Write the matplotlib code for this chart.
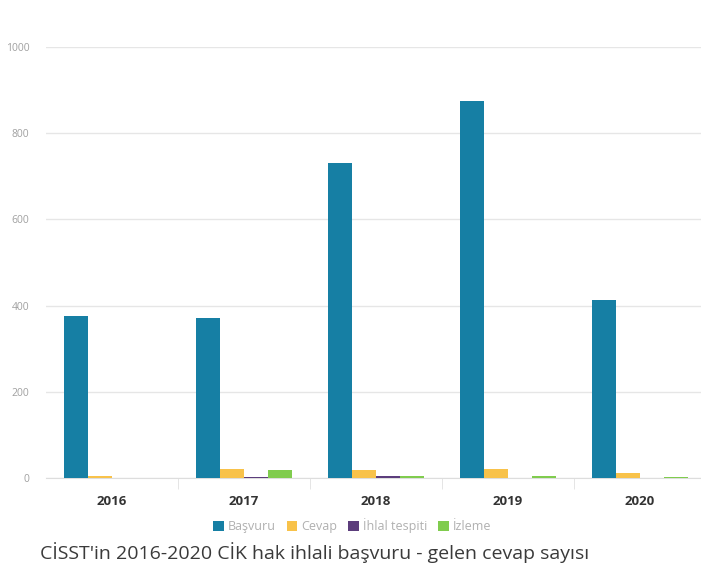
import numpy as np
import matplotlib.pyplot as plt

years = ["2016", "2017", "2018", "2019", "2020"]
basvuru = [377, 372, 731, 874, 412]
cevap = [4, 21, 18, 22, 12]
ihlal = [0, 3, 4, 1, 1]
izleme = [0, 19, 4, 5, 3]

series_names = ["Başvuru", "Cevap", "İhlal tespiti", "İzleme"]
colors = ["#167fa4", "#f8c24a", "#5c3d7c", "#80cc4e"]

plt.rcParams["font.family"] = ["Open Sans", "DejaVu Sans"]

fig = plt.figure(figsize=(7.01, 5.72), dpi=100)
ax = fig.add_axes([46 / 701, 94 / 572, 660 / 701, 431 / 572])

x = np.arange(len(years))
w = 0.18
for i, (vals, name, c) in enumerate(zip([basvuru, cevap, ihlal, izleme], series_names, colors)):
    ax.bar(x + (i - 1.5) * w, vals, w, color=c, label=name, zorder=3)

ax.set_xlim(-0.5, len(years) - 0.5)
ax.set_ylim(0, 1000)
ax.set_yticks([0, 200, 400, 600, 800, 1000])
ax.grid(axis="y", color="#e6e6e6", linewidth=1, zorder=0)
ax.tick_params(axis="y", length=0, labelsize=7.5, labelcolor="#a0a0a0", pad=12)
ax.set_xticks(x)
ax.set_xticklabels(years, fontsize=9.5, fontweight="bold", color="#333333")
ax.tick_params(axis="x", length=0, pad=12)
ax.set_xticks(np.arange(len(years) - 1) + 0.5, minor=True)
ax.tick_params(axis="x", which="minor", length=8, color="#e0e0e0")
for s in ["top", "right", "left"]:
    ax.spines[s].set_visible(False)
ax.spines["bottom"].set_color("#dddddd")

leg = fig.legend(loc="center", bbox_to_anchor=(352 / 701, 1 - 526 / 572), ncol=4,
                 frameon=False, fontsize=9, handlelength=0.85, handleheight=0.85,
                 handletextpad=0.3, columnspacing=0.9)
for t in leg.get_texts():
    t.set_color("#b0b0b0")

fig.text(40 / 701, 1 - 553 / 572, "CİSST'in 2016-2020 CİK hak ihlali başvuru - gelen cevap sayısı",
         fontsize=14, color="#3a3a3a", va="center", ha="left")

fig.savefig("out.png", dpi=100)
